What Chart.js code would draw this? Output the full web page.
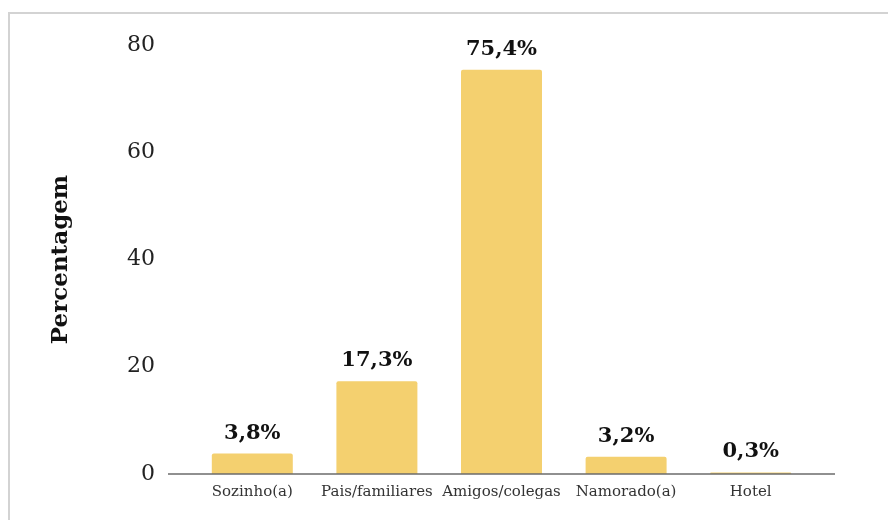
<!DOCTYPE html>
<html>
<head>
<meta charset="utf-8">
<script src="https://cdn.jsdelivr.net/npm/chart.js@4.4.1/dist/chart.umd.min.js"></script>
<style>
    html, body { margin: 0; padding: 0; background: #fff; }
    #wrap { width: 888px; height: 520px; position: relative; }
</style>
</head>
<body>
<div id="wrap"><canvas id="chart" width="888" height="520"></canvas></div>
<script>
// Companhia durante a viagem (%)
const categorias = ['Sozinho(a)', 'Pais/familiares', 'Amigos/colegas', 'Namorado(a)', 'Hotel'];
const percentagens = [3.8, 17.3, 75.4, 3.2, 0.3];
const rotulos = ['3,8%', '17,3%', '75,4%', '3,2%', '0,3%'];
const ticksY = [0, 20, 40, 60, 80];

const SERIF = "'DejaVu Serif', Georgia, serif";

// moldura cinzenta à volta do gráfico
const moldura = {
    id: 'moldura',
    beforeDraw(chart) {
        const ctx = chart.ctx;
        ctx.save();
        ctx.strokeStyle = '#d3d3d3';
        ctx.lineWidth = 2;
        ctx.strokeRect(9, 13, 1000, 1000);
        ctx.restore();
    }
};

// linha de base um pouco mais larga que a área das barras
const linhaBase = {
    id: 'linhaBase',
    afterDatasetsDraw(chart) {
        const { ctx, chartArea } = chart;
        const y = chart.scales.y.getPixelForValue(0);
        ctx.save();
        ctx.strokeStyle = '#6b6b6b';
        ctx.lineWidth = 1.5;
        ctx.beginPath();
        ctx.moveTo(chartArea.left - 22, y);
        ctx.lineTo(chartArea.right + 22, y);
        ctx.stroke();
        ctx.restore();
    }
};

// valores por cima das barras
const valores = {
    id: 'valores',
    afterDatasetsDraw(chart) {
        const ctx = chart.ctx;
        const meta = chart.getDatasetMeta(0);
        ctx.save();
        ctx.font = "bold 21px " + SERIF;
        ctx.fillStyle = '#111';
        ctx.textAlign = 'center';
        ctx.textBaseline = 'alphabetic';
        meta.data.forEach((bar, i) => {
            ctx.fillText(rotulos[i], bar.x, bar.y - 15);
        });
        ctx.restore();
    }
};

new Chart(document.getElementById('chart'), {
    type: 'bar',
    data: {
        labels: categorias,
        datasets: [{
            data: percentagens,
            backgroundColor: '#f4d06f',
            borderRadius: 2,
            borderSkipped: 'bottom',
            barPercentage: 0.65,
            categoryPercentage: 1
        }]
    },
    options: {
        responsive: false,
        animation: false,
        layout: { padding: { left: 44, right: 75, top: 45, bottom: 16 } },
        plugins: { legend: { display: false }, tooltip: { enabled: false } },
        scales: {
            x: {
                grid: { display: false, drawTicks: false },
                border: { display: false },
                ticks: { color: '#333', padding: 9, font: { family: SERIF, size: 15 }, maxRotation: 0, autoSkip: false },
                afterFit: s => { s.height = 30; }
            },
            y: {
                min: 0,
                max: 80,
                afterBuildTicks: s => { s.ticks = ticksY.map(v => ({ value: v })); },
                // tickLength invisível afasta os números do eixo sem aumentar a margem vertical
                grid: { display: false, drawTicks: true, tickLength: 32 },
                border: { display: false },
                ticks: { color: '#222', padding: 3, font: { family: SERIF, size: 22 } },
                title: {
                    display: true,
                    text: 'Percentagem',
                    color: '#111',
                    font: { family: SERIF, size: 23, weight: 'bold' },
                    padding: { top: 3, bottom: 4 }
                },
                afterFit: s => { s.width = 146; }
            }
        }
    },
    plugins: [moldura, linhaBase, valores]
});
</script>
</body>
</html>
